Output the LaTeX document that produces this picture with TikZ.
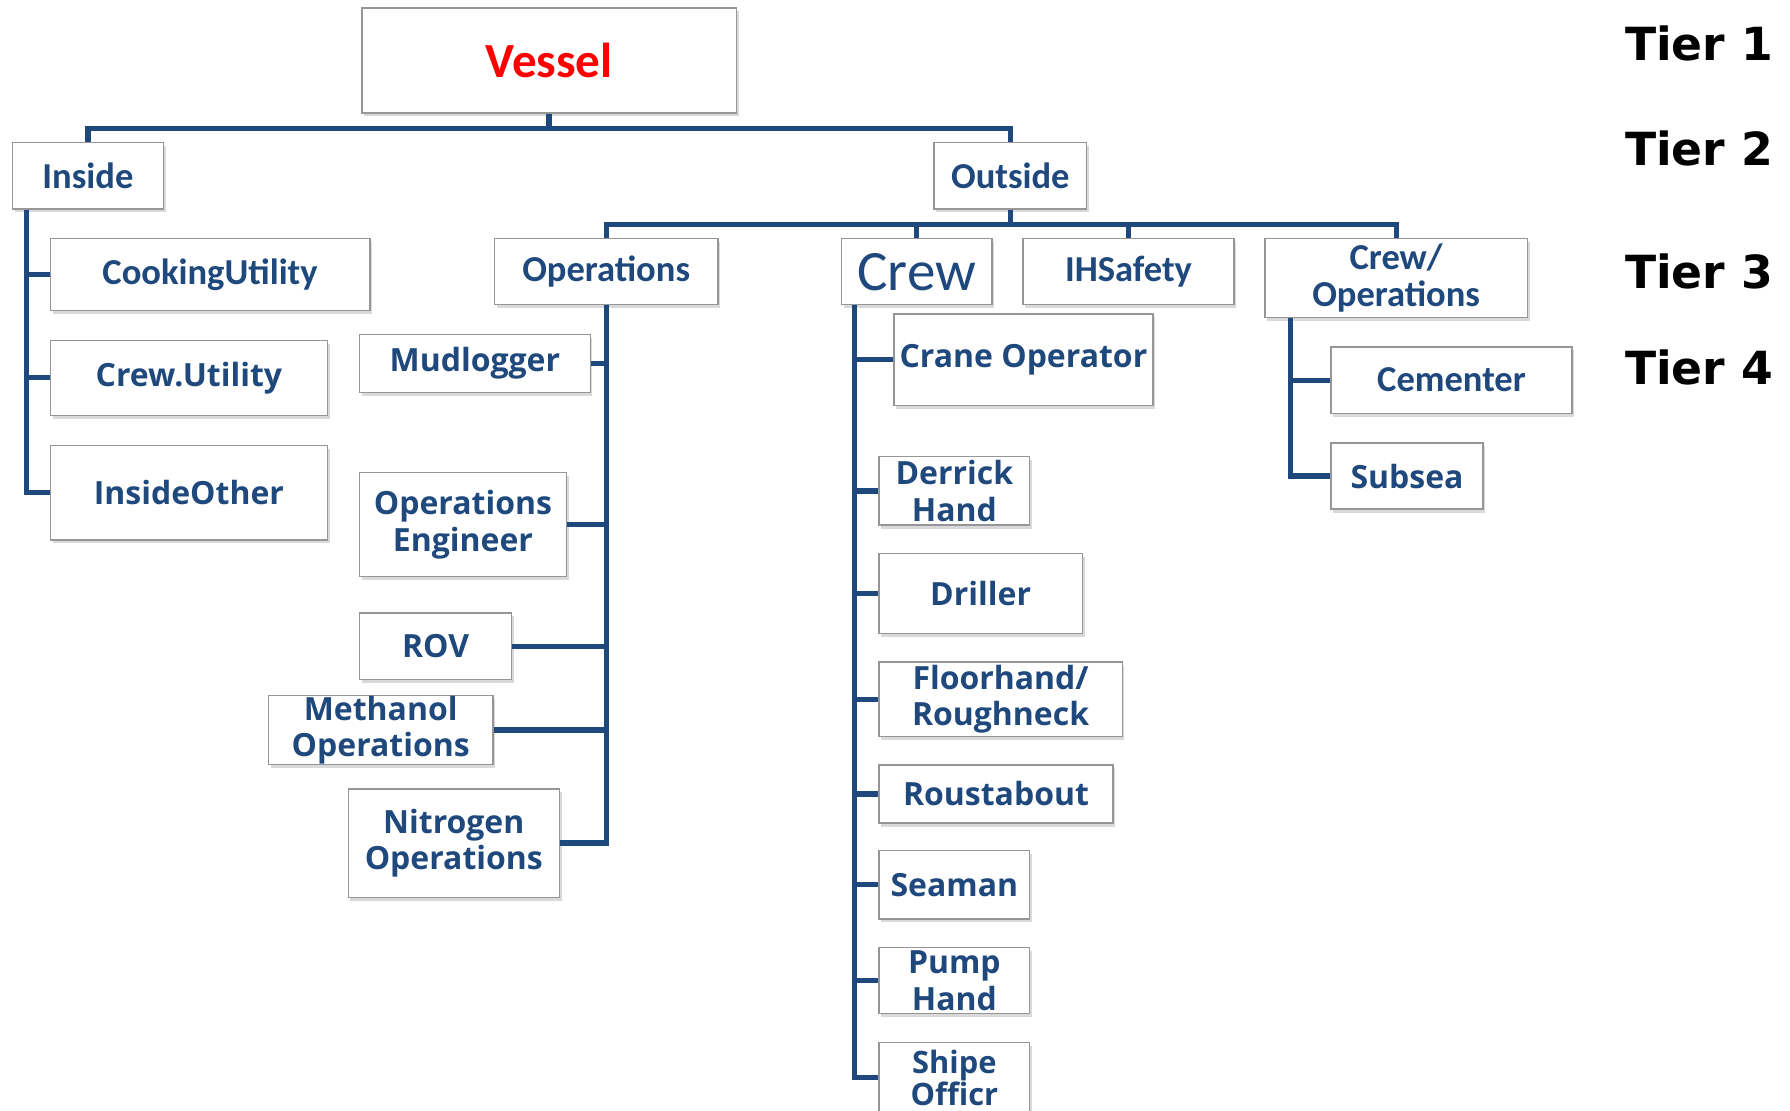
\documentclass[tikz,border=0pt]{standalone}
\usepackage{fontspec}
\usepackage{tikz}
\usetikzlibrary{shadows}
\setmainfont{Carlito}
\newfontfamily\widefont{Open Sans}
\newfontfamily\tierfont{DejaVu Sans}

\begin{document}
\begin{tikzpicture}[x = 1pt, y = -1pt]
  % styles
  \definecolor{chartblue}{RGB}{31, 73, 125}
  \definecolor{boxgray}{RGB}{150, 150, 150}
  \tikzstyle{box} = [draw = boxgray, line width = 1.2pt, fill = white, inner sep = 0pt,
    align = center, text = chartblue,
    drop shadow = {shadow xshift = 2pt, shadow yshift = -3pt, opacity = 0.3}]
  \tikzstyle{narrow} = [font = \bfseries\fontsize{32}{32}\selectfont]
  \tikzstyle{wide} = [font = \widefont\bfseries\fontsize{28}{32}\selectfont]
  \tikzstyle{branch} = [draw = chartblue, line width = 4.6pt]
  \tikzstyle{tier} = [anchor = west, font = \tierfont\bfseries\fontsize{40}{40}\selectfont]

  \useasboundingbox (0, 0) rectangle (1568, 973);

  % tier labels
  \node[tier] (tier1) at (1420, 38) {Tier 1};
  \node[tier] (tier2) at (1420, 130) {Tier 2};
  \node[tier] (tier3) at (1420, 238) {Tier 3};
  \node[tier] (tier4) at (1420, 322) {Tier 4};

  % tier 1
  \node[box, minimum width = 328pt, minimum height = 92pt, text = red,
    font = \bfseries\fontsize{43}{43}\selectfont] (vessel) at (481, 53) {Vessel};

  % tier 2
  \node[box, narrow, minimum width = 132pt, minimum height = 58pt] (inside) at (77, 154) {Inside};
  \node[box, narrow, minimum width = 134pt, minimum height = 58pt] (outside) at (885, 154) {Outside};

  % inside branch
  \node[box, narrow, minimum width = 280pt, minimum height = 63pt] (cooking) at (184, 240.5) {CookingUtility};
  \node[box, wide, minimum width = 243pt, minimum height = 66pt] (crewutil) at (165.5, 331) {Crew.Utility};
  \node[box, wide, minimum width = 243pt, minimum height = 83pt] (insideother) at (165.5, 431.5) {InsideOther};

  % tier 3
  \node[box, narrow, minimum width = 196pt, minimum height = 58pt] (operations) at (531, 238) {Operations};
  \node[box, minimum width = 132pt, minimum height = 58pt,
    font = \fontsize{50}{50}\selectfont] (crew) at (803, 238) {Crew};
  \node[box, narrow, minimum width = 185pt, minimum height = 58pt] (ihsafety) at (988.5, 238) {IHSafety};
  \node[box, narrow, minimum width = 230pt, minimum height = 69pt] (crewops) at (1223, 243.5) {Crew/\\Operations};

  % operations branch
  \node[box, wide, minimum width = 202pt, minimum height = 51pt] (mudlogger) at (416, 318.5) {Mudlogger};
  \node[box, wide, minimum width = 181pt, minimum height = 91pt] (opsengineer) at (405.5, 459.5) {Operations\\Engineer};
  \node[box, wide, minimum width = 133pt, minimum height = 58pt] (rov) at (381.5, 566) {ROV};
  \node[box, wide, minimum width = 197pt, minimum height = 53pt] (methanol) at (333.5, 639.5) {Methanol\\Operations};
  \node[box, wide, minimum width = 185pt, minimum height = 95pt] (nitrogen) at (397.5, 738.5) {Nitrogen\\Operations};

  % crew branch
  \node[box, wide, minimum width = 227pt, minimum height = 80pt] (crane) at (896.5, 315) {Crane Operator};
  \node[box, wide, minimum width = 132pt, minimum height = 60pt] (derrick) at (836, 430) {Derrick\\Hand};
  \node[box, wide, minimum width = 178pt, minimum height = 70pt] (driller) at (859, 520) {Driller};
  \node[box, wide, minimum width = 213pt, minimum height = 65pt] (floorhand) at (876.5, 612.5) {Floorhand/\\Roughneck};
  \node[box, wide, minimum width = 205pt, minimum height = 51pt] (roustabout) at (872.5, 695.5) {Roustabout};
  \node[box, wide, minimum width = 132pt, minimum height = 60pt] (seaman) at (836, 775) {Seaman};
  \node[box, wide, minimum width = 132pt, minimum height = 58pt] (pumphand) at (836, 859) {Pump\\Hand};
  \node[box, wide, minimum width = 132pt, minimum height = 62pt,
    font = \widefont\bfseries\fontsize{27}{28}\selectfont] (shipofficer) at (836, 944) {Shipe\\Officr};

  % crew/operations branch
  \node[box, narrow, minimum width = 211pt, minimum height = 58pt] (cementer) at (1271.5, 333) {Cementer};
  \node[box, wide, minimum width = 133pt, minimum height = 58pt] (subsea) at (1232.5, 417) {Subsea};

  % connectors
  \begin{scope}[style = branch]
    \draw (vessel.south) -- ++(0, 13) -| (inside.north);
    \draw (vessel.south) -- ++(0, 13) -| (outside.north);

    \draw ([xshift = 13pt]inside.south west) |- (cooking.west);
    \draw ([xshift = 13pt]inside.south west) |- (crewutil.west);
    \draw ([xshift = 13pt]inside.south west) |- (insideother.west);

    \draw (outside.south) -- ++(0, 13) -| (operations.north);
    \draw (outside.south) -- ++(0, 13) -| (crew.north);
    \draw (outside.south) -- ++(0, 13) -| (ihsafety.north);
    \draw (outside.south) -- ++(0, 13) -| (crewops.north);

    \foreach \child in {mudlogger, opsengineer, rov, methanol, nitrogen}
      \draw (operations.south) |- (\child.east);

    \foreach \child in {crane, derrick, driller, floorhand, roustabout, seaman, pumphand, shipofficer}
      \draw ([xshift = 12pt]crew.south west) |- (\child.west);

    \draw ([xshift = 23pt]crewops.south west) |- (cementer.west);
    \draw ([xshift = 23pt]crewops.south west) |- (subsea.west);
  \end{scope}

\end{tikzpicture}
\end{document}
